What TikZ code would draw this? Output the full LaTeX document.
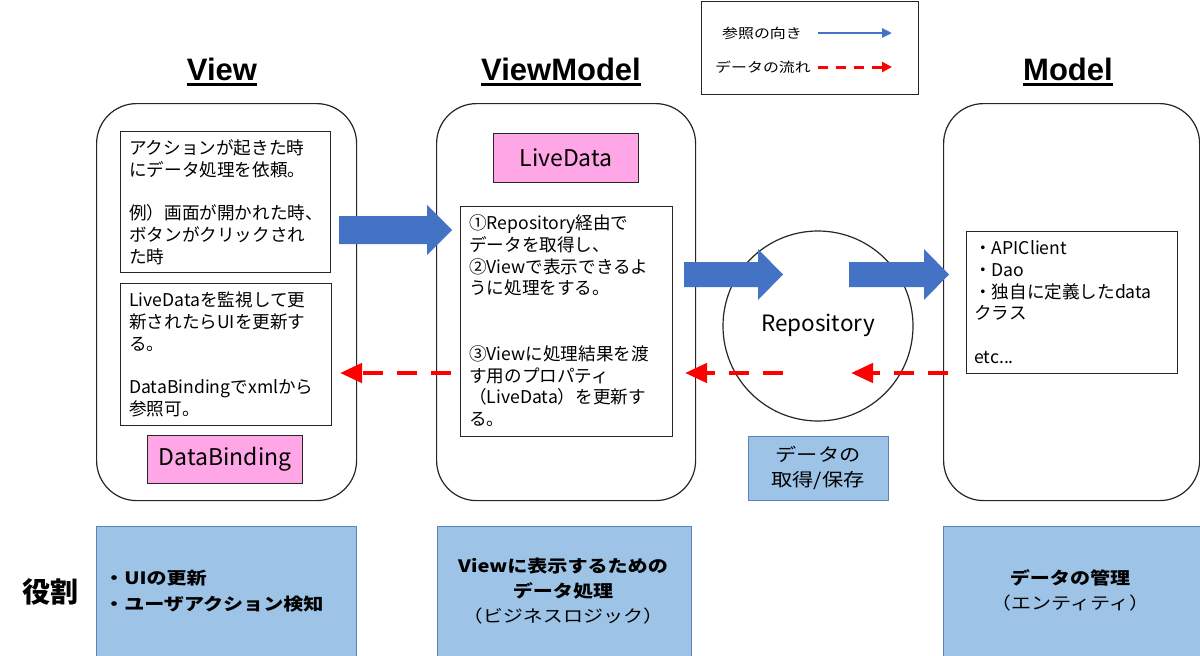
\documentclass[tikz,border=0pt]{standalone}
\usepackage{fontspec}
\setmainfont{Noto Sans CJK JP}
\newfontfamily\hdfont{Liberation Sans}
\newfontfamily\widefont{Noto Sans CJK JP}[FakeStretch=1.18]
\usetikzlibrary{arrows.meta,calc}
\definecolor{blockblue}{HTML}{4472C4}
\definecolor{rolefill}{HTML}{9DC3E6}
\definecolor{roleline}{HTML}{5B84BE}
\definecolor{pinkfill}{HTML}{FFA6E6}
\definecolor{dred}{HTML}{FF0000}
\newcommand{\fsz}[2]{\fontsize{#1}{#2}\selectfont}
\newcommand{\blockarrow}[4]{\fill[blockblue] ($(#1)+(0,-#3)$) -- ($(#2)+(-25,-#3)$) -- ($(#2)+(-25,-#4)$) -- (#2) -- ($(#2)+(-25,#4)$) -- ($(#2)+(-25,#3)$) -- ($(#1)+(0,#3)$) -- cycle;}
\begin{document}
\begin{tikzpicture}[x=1pt,y=-1pt,
  bigbox/.style={draw=black!85, line width=1.2pt, rounded corners=40pt, anchor=north west, inner sep=0pt},
  thinbox/.style={draw=black!85, line width=1.2pt, anchor=north west, inner sep=0pt},
  pinkbox/.style={thinbox, fill=pinkfill},
  rolebox/.style={draw=roleline, line width=1pt, fill=rolefill, anchor=north west, inner sep=0pt},
  bodytext/.style={anchor=north west, align=left, inner sep=0pt, font=\fsz{17.6}{21.8}},
  header/.style={anchor=base, inner sep=0pt, font=\hdfont\bfseries\fsz{31}{36}},
  reddash/.style={draw=dred, line width=4.5pt, dash pattern=on 20pt off 14pt, -{Triangle[length=22pt,width=19pt]}},
]
\useasboundingbox (0,0) rectangle (1200,656);
\fill[white] (0,0) rectangle (1200,656);

% legend
\node[thinbox, minimum width=217pt, minimum height=93pt] (legend) at (701,1) {};
\node[inner sep=0pt, font=\widefont\fsz{13.5}{16}] (lgref) at (762,33) {参照の向き};
\node[inner sep=0pt, font=\widefont\fsz{13.5}{16}] (lgflow) at (763,67) {データの流れ};
\coordinate (lga1) at (818,33); \coordinate (lga2) at (892,33);
\coordinate (lgb1) at (818,67); \coordinate (lgb2) at (892,67);
\draw[blockblue, line width=2.5pt, -{Triangle[length=10pt,width=9pt]}] (lga1) -- (lga2);
\draw[dred, line width=3pt, dash pattern=on 10pt off 8pt, -{Triangle[length=10pt,width=10pt]}] (lgb1) -- (lgb2);

% headers
\node[header] (hview) at (222,80) {View};
\node[header] (hvm) at (561,80) {ViewModel};
\node[header] (hmodel) at (1068,80) {Model};
\foreach \h in {hview,hvm,hmodel}{
  \draw[line width=3pt] ([yshift=-4pt]\h.base west) -- ([yshift=-4pt]\h.base east);
}

% big boxes
\node[bigbox, minimum width=260pt, minimum height=397pt] (viewbox) at (96,103) {};
\node[bigbox, minimum width=259pt, minimum height=397pt] (vmbox) at (436,103) {};
\node[bigbox, minimum width=256pt, minimum height=397pt] (modelbox) at (943,103) {};

% view contents
\node[thinbox, minimum width=210pt, minimum height=141pt] (vb1) at (120,131) {};
\node[bodytext] (vb1t) at (129,139) {\strut アクションが起きた時\\にデータ処理を依頼。\\[21.8pt]例）画面が開かれた時、\\ボタンがクリックされ\\た時};
\node[thinbox, minimum width=211pt, minimum height=142pt] (vb2) at (120,283) {};
\node[bodytext] (vb2t) at (129,291) {\strut LiveDataを監視して更\\新されたらUIを更新す\\る。\\[21.8pt]DataBindingでxmlから\\参照可。};
\node[pinkbox, minimum width=155pt, minimum height=48pt] (dbind) at (147,435) {};
\node[font=\fsz{23}{26}, inner sep=0pt] (dbindt) at (dbind.center) {DataBinding};

% viewmodel contents
\node[pinkbox, minimum width=145pt, minimum height=49pt] (live) at (493,133) {};
\node[font=\fsz{23}{26}, inner sep=0pt] (livet) at (live.center) {LiveData};
\node[thinbox, minimum width=212pt, minimum height=230pt] (vmt) at (460,206) {};
\node[bodytext] (vmtt) at (469,214) {\strut ①Repository経由で\\データを取得し、\\②Viewで表示できるよ\\うに処理をする。\\[43.6pt]③Viewに処理結果を渡\\す用のプロパティ\\（LiveData）を更新す\\る。};

% repository
\node[draw=black!85, line width=1.2pt, circle, minimum size=190pt, inner sep=0pt] (repo) at (818,326) {};
\node[font=\fsz{22.5}{26}, inner sep=0pt] (repot) at (818,325) {Repository};
\node[rolebox, minimum width=140pt, minimum height=64pt] (store) at (748,436) {};
\node[align=center, inner sep=0pt, font=\widefont\fsz{18}{25}] (storet) at (818,468) {データの\\取得/保存};

% model contents
\node[thinbox, minimum width=211pt, minimum height=142pt] (mb) at (966,231) {};
\node[bodytext] (mbt) at (974,239) {\strut ・APIClient\\・Dao\\・独自に定義したdata\\クラス\\[21.8pt]etc...};

% block arrows
\coordinate (ba1s) at (339,230); \coordinate (ba1e) at (452,230);
\coordinate (ba2s) at (684,274.5); \coordinate (ba2e) at (783,274.5);
\coordinate (ba3s) at (849,274.5); \coordinate (ba3e) at (949,274.5);
\blockarrow{ba1s}{ba1e}{14}{25}
\blockarrow{ba2s}{ba2e}{12.5}{25.5}
\blockarrow{ba3s}{ba3e}{12.5}{25.5}

% red dashed arrows
\coordinate (ra1s) at (451,373); \coordinate (ra1e) at (340,373);
\coordinate (ra2s) at (783,373); \coordinate (ra2e) at (685,373);
\coordinate (ra3s) at (948,373); \coordinate (ra3e) at (851,373);
\draw[reddash] (ra1s) -- (ra1e);
\draw[reddash] (ra2s) -- (ra2e);
\draw[reddash] (ra3s) -- (ra3e);

% roles
\node[inner sep=0pt, font=\bfseries\fsz{28}{32}] (role) at (50,592) {役割};
\node[rolebox, minimum width=260pt, minimum height=132pt] (rview) at (96,526) {};
\node[anchor=west, align=left, inner sep=0pt, font=\widefont\bfseries\fsz{17}{25.5}] (rviewt) at (104,591) {・UIの更新\\・ユーザアクション検知};
\node[rolebox, minimum width=254pt, minimum height=132pt] (rvm) at (437,526) {};
\node[align=center, inner sep=0pt, font=\widefont\fsz{17}{25}] (rvmt) at (563,591) {\textbf{Viewに表示するための}\\\textbf{データ処理}\\（ビジネスロジック）};
\node[rolebox, minimum width=257pt, minimum height=132pt] (rmodel) at (943,526) {};
\node[align=center, inner sep=0pt, font=\widefont\fsz{17}{25}] (rmodelt) at (1070,590) {\textbf{データの管理}\\（エンティティ）};
\end{tikzpicture}
\end{document}
